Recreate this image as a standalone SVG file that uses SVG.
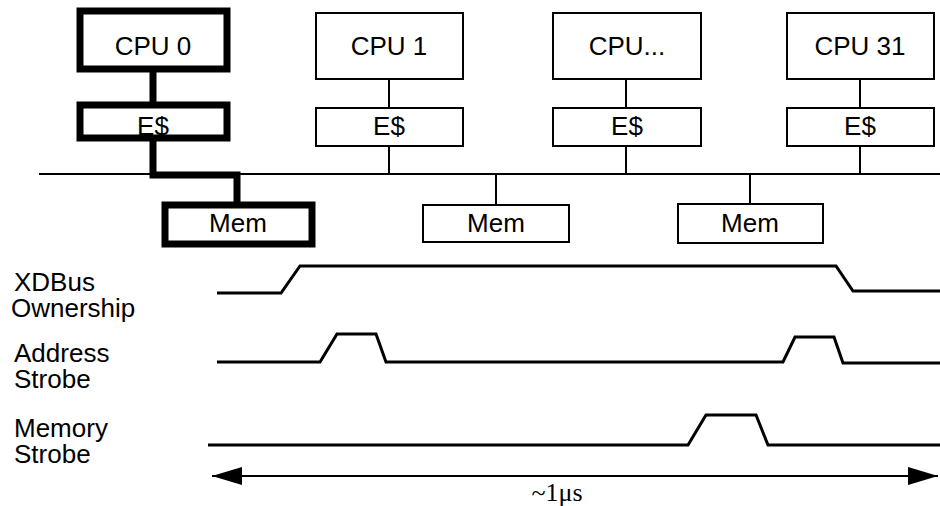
<svg xmlns="http://www.w3.org/2000/svg" width="940" height="506" viewBox="0 0 940 506">
<style>
.box{fill:#fff;stroke:#000;stroke-width:2}
.thick{fill:#fff;stroke:#000;stroke-width:7}
.lbl{font-family:"Liberation Sans",Arial,sans-serif;font-size:26px;fill:#000}
.c{text-anchor:middle}
.ln{fill:none;stroke:#000;stroke-width:2}
.tl{fill:none;stroke:#000;stroke-width:3;stroke-linejoin:miter}
</style>
<defs>
<marker id="ah" viewBox="0 0 30 18" refX="30" refY="9" markerWidth="30" markerHeight="18" markerUnits="userSpaceOnUse" orient="auto-start-reverse">
<path d="M0,0 L30,9 L0,18 Z" fill="#000"/>
</marker>
</defs>
<g id="connectors">
<line class="ln" x1="39" y1="174" x2="940" y2="174"/>
<line class="ln" x1="389" y1="79" x2="389" y2="108"/>
<line class="ln" x1="389" y1="146" x2="389" y2="174"/>
<line class="ln" x1="626" y1="79" x2="626" y2="108"/>
<line class="ln" x1="626" y1="146" x2="626" y2="174"/>
<line class="ln" x1="860" y1="79" x2="860" y2="108"/>
<line class="ln" x1="860" y1="146" x2="860" y2="174"/>
<line class="ln" x1="496" y1="174" x2="496" y2="205"/>
<line class="ln" x1="750" y1="174" x2="750" y2="204"/>
<line x1="153" y1="69" x2="153" y2="105" stroke="#000" stroke-width="7"/>
<polyline points="153,138 153,175 237,175 237,205" fill="none" stroke="#000" stroke-width="7"/>
</g>
<g id="cpu0"><rect class="thick" x="80" y="11" width="147" height="58"/><text class="lbl c" x="153" y="55">CPU 0</text></g>
<g id="cache0"><rect class="thick" x="80" y="105" width="147" height="33"/><text class="lbl c" x="153" y="135">E$</text></g>
<g id="mem0"><rect class="thick" x="165" y="205" width="147" height="39"/><text class="lbl c" x="238" y="232">Mem</text></g>
<g id="cpu1"><rect class="box" x="316" y="13" width="147" height="66"/><text class="lbl c" x="389" y="55">CPU 1</text></g>
<g id="cache1"><rect class="box" x="316" y="108" width="147" height="38"/><text class="lbl c" x="389" y="135">E$</text></g>
<g id="cpuN"><rect class="box" x="553" y="13" width="148" height="66"/><text class="lbl c" x="627" y="55">CPU...</text></g>
<g id="cacheN"><rect class="box" x="553" y="108" width="148" height="38"/><text class="lbl c" x="627" y="135">E$</text></g>
<g id="cpu31"><rect class="box" x="787" y="13" width="147" height="66"/><text class="lbl c" x="860" y="55">CPU 31</text></g>
<g id="cache31"><rect class="box" x="787" y="108" width="147" height="38"/><text class="lbl c" x="860" y="135">E$</text></g>
<g id="mem1"><rect class="box" x="423" y="205" width="146" height="37"/><text class="lbl c" x="496" y="232">Mem</text></g>
<g id="mem2"><rect class="box" x="678" y="204" width="145" height="39"/><text class="lbl c" x="750" y="232">Mem</text></g>
<g id="timing">
<text class="lbl" x="14" y="291">XDBus</text>
<text class="lbl" x="11" y="317">Ownership</text>
<text class="lbl" x="14" y="362">Address</text>
<text class="lbl" x="14" y="388">Strobe</text>
<text class="lbl" x="14" y="437">Memory</text>
<text class="lbl" x="14" y="463">Strobe</text>
<polyline class="tl" points="217,293 281,293 300,266 836,266 853,291 940,291"/>
<polyline class="tl" points="217,362 320,362 337,334 376,334 386,362 783,362 795,337 834,337 843,363 940,363"/>
<polyline class="tl" points="208,445 688,445 706,415 756,415 768,445 940,445"/>
<line x1="212" y1="476" x2="938" y2="476" stroke="#000" stroke-width="2" marker-start="url(#ah)" marker-end="url(#ah)"/>
<text x="557" y="501" font-family="'Liberation Serif','Times New Roman',serif" font-size="26" text-anchor="middle">~1μs</text>
</g>
</svg>
